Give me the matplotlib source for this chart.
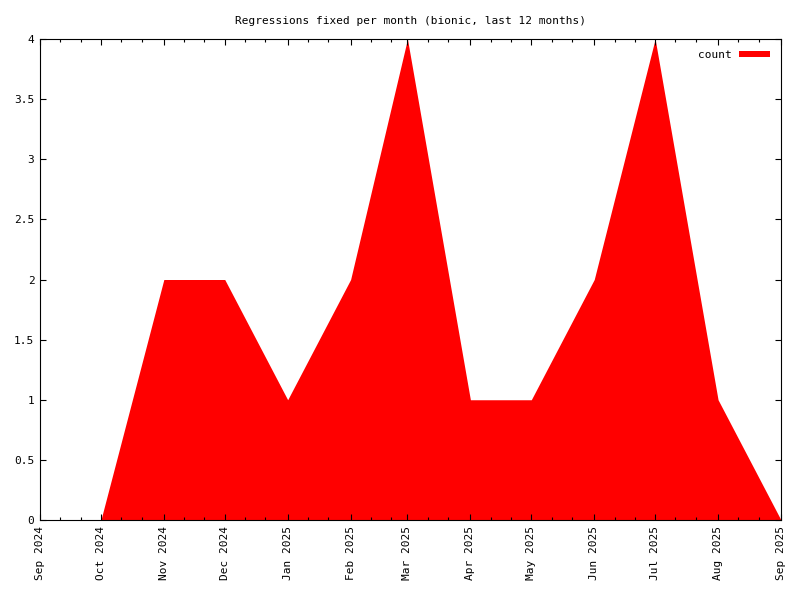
import matplotlib
matplotlib.use("Agg")
import matplotlib.pyplot as plt
import matplotlib.dates as mdates
import datetime as dt

# monthly regression fix counts (bionic)
months = ["2024-10", "2024-11", "2024-12", "2025-01", "2025-02", "2025-03",
          "2025-04", "2025-05", "2025-06", "2025-07", "2025-08", "2025-09"]
counts = [0, 2, 2, 1, 2, 4, 1, 1, 2, 4, 1, 0]
yticks = [0, 0.5, 1, 1.5, 2, 2.5, 3, 3.5, 4]
ytick_labels = ["0", "0.5", "1", "1.5", "2", "2.5", "3", "3.5", "4"]

dates = [dt.datetime.strptime(m, "%Y-%m") for m in months]

plt.rcParams['font.family'] = ['DejaVu Sans Mono']
fig = plt.figure(figsize=(8, 6), dpi=100)
# plot box roughly at x 40..781, y 39..520 px
ax = fig.add_axes([40 / 800, 80 / 600, 741 / 800, 481 / 600])

ax.fill_between(dates, counts, 0, color='#ff0000', linewidth=0, label='count')

ax.set_xlim(dt.datetime(2024, 9, 1), dt.datetime(2025, 9, 1))
ax.set_ylim(0, 4)
ax.set_yticks(yticks)
ax.set_yticklabels(ytick_labels)

ax.xaxis.set_major_locator(mdates.MonthLocator())
ax.xaxis.set_major_formatter(mdates.DateFormatter('%b %Y'))
ax.xaxis.set_minor_locator(mdates.DayLocator(bymonthday=[11, 21]))
for lbl in ax.get_xticklabels():
    lbl.set_rotation(90)

ax.tick_params(axis='both', which='both', direction='in', top=True, right=True,
               labelsize=8, width=0.8, colors='black')
ax.tick_params(axis='both', which='major', length=4.5, pad=4)
ax.tick_params(axis='x', which='minor', length=2.5)
for sp in ax.spines.values():
    sp.set_linewidth(0.8)

ax.set_title('Regressions fixed per month (bionic, last 12 months)', fontsize=8, pad=11)

ax.legend(loc='upper right', frameon=False, fontsize=8, markerfirst=False,
          handlelength=2.8, handleheight=0.5, handletextpad=0.6, borderaxespad=0.6)

fig.savefig('out.png', dpi=100)
